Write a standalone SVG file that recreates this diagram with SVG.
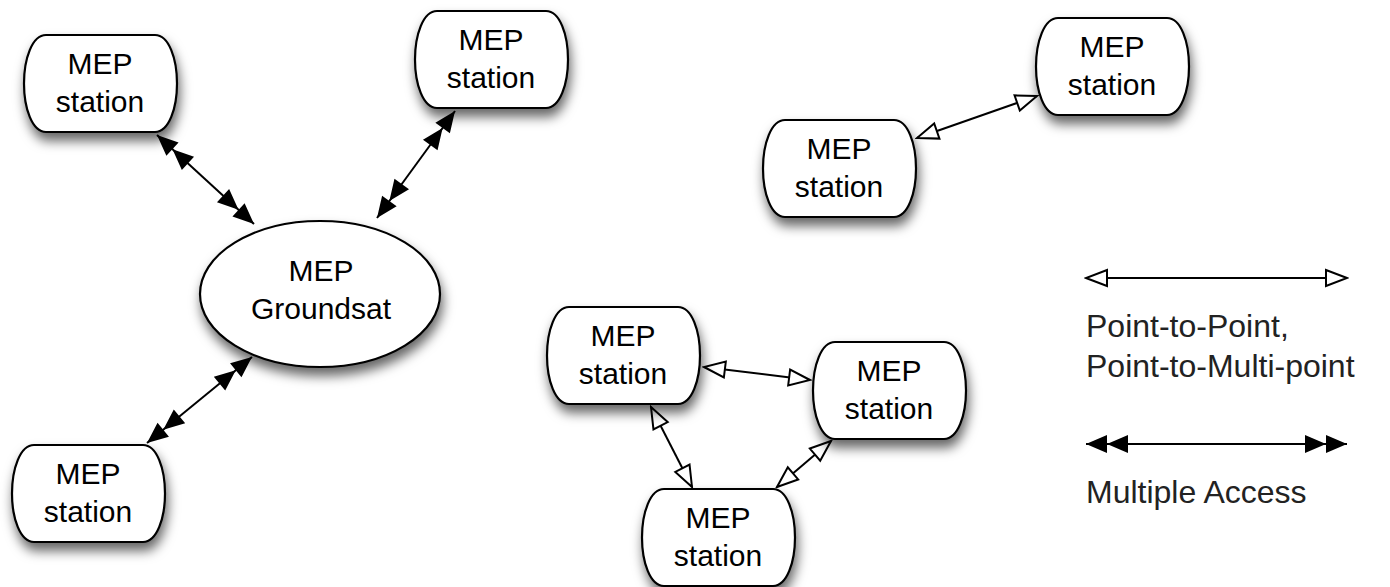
<svg xmlns="http://www.w3.org/2000/svg" xmlns:xlink="http://www.w3.org/1999/xlink" width="1390" height="587" viewBox="0 0 1390 587">
  <style>
    .node { fill: #ffffff; stroke: #000000; stroke-width: 2.2; filter: url(#shadow); }
    .label { font-family: "Liberation Sans", Arial, Helvetica, sans-serif; font-size: 30px; fill: #000000; text-anchor: middle; }
    .legend-text { font-family: "Liberation Sans", Arial, Helvetica, sans-serif; font-size: 32px; fill: #222222; }
    .link { stroke: #000000; stroke-width: 2; fill: none; }
    .ma { marker-start: url(#headDouble); marker-end: url(#headDouble); }
    .p2p { marker-start: url(#headOpen); marker-end: url(#headOpen); }
  </style>
  <defs>
    <filter id="shadow" x="-30%" y="-30%" width="160%" height="180%">
      <feDropShadow dx="2" dy="8" stdDeviation="6" flood-color="#000000" flood-opacity="0.6"/>
    </filter>
    <!-- station outline: straight top/bottom, bulging sides; 153 x 97 -->
    <path id="stationShape" d="M22,0 H131 C145,0 153,24 153,48.5 C153,73 145,97 131,97 H22 C8,97 0,73 0,48.5 C0,24 8,0 22,0 Z"/>
    <!-- doubled solid head (multiple access) -->
    <marker id="headDouble" markerUnits="userSpaceOnUse" orient="auto-start-reverse" viewBox="-44 -11 46 22" refX="0" refY="0" markerWidth="46" markerHeight="22">
      <path d="M0,0 L-21,-9 L-21,9 Z M-21,0 L-42,-9 L-42,9 Z" fill="#000000"/>
    </marker>
    <!-- hollow head (point-to-point) -->
    <marker id="headOpen" markerUnits="userSpaceOnUse" orient="auto-start-reverse" viewBox="-25 -11 27 22" refX="0" refY="0" markerWidth="27" markerHeight="22">
      <path d="M0,0 L-21,-8 L-21,8 Z" fill="#ffffff" stroke="#000000" stroke-width="2" stroke-linejoin="miter"/>
    </marker>
  </defs>

  <g id="connectors">
    <line class="link ma" x1="157" y1="135" x2="254" y2="224"/>
    <line class="link ma" x1="455" y1="111" x2="377" y2="218"/>
    <line class="link ma" x1="252" y1="357" x2="147" y2="443"/>
    <line class="link p2p" x1="917" y1="138" x2="1037" y2="96"/>
    <line class="link p2p" x1="704" y1="367" x2="810" y2="380"/>
    <line class="link p2p" x1="651" y1="407" x2="692" y2="487"/>
    <line class="link p2p" x1="831" y1="441" x2="777" y2="487"/>
  </g>

  <g id="groundsat">
    <ellipse class="node" cx="320" cy="294" rx="120" ry="73"/>
    <text class="label" x="321" y="281">MEP</text>
    <text class="label" x="321" y="319">Groundsat</text>
  </g>

  <g id="station-a">
    <use class="node" href="#stationShape" xlink:href="#stationShape" x="24" y="35"/>
    <text class="label" x="100" y="74">MEP</text>
    <text class="label" x="100" y="112">station</text>
  </g>
  <g id="station-b">
    <use class="node" href="#stationShape" xlink:href="#stationShape" x="415" y="11"/>
    <text class="label" x="491" y="50">MEP</text>
    <text class="label" x="491" y="88">station</text>
  </g>
  <g id="station-c">
    <use class="node" href="#stationShape" xlink:href="#stationShape" x="12" y="445"/>
    <text class="label" x="88" y="484">MEP</text>
    <text class="label" x="88" y="522">station</text>
  </g>
  <g id="station-d">
    <use class="node" href="#stationShape" xlink:href="#stationShape" x="1036" y="18"/>
    <text class="label" x="1112" y="57">MEP</text>
    <text class="label" x="1112" y="95">station</text>
  </g>
  <g id="station-e">
    <use class="node" href="#stationShape" xlink:href="#stationShape" x="763" y="120"/>
    <text class="label" x="839" y="159">MEP</text>
    <text class="label" x="839" y="197">station</text>
  </g>
  <g id="station-f">
    <use class="node" href="#stationShape" xlink:href="#stationShape" x="547" y="307"/>
    <text class="label" x="623" y="346">MEP</text>
    <text class="label" x="623" y="384">station</text>
  </g>
  <g id="station-g">
    <use class="node" href="#stationShape" xlink:href="#stationShape" x="813" y="342"/>
    <text class="label" x="889" y="381">MEP</text>
    <text class="label" x="889" y="419">station</text>
  </g>
  <g id="station-h">
    <use class="node" href="#stationShape" xlink:href="#stationShape" x="642" y="489"/>
    <text class="label" x="718" y="528">MEP</text>
    <text class="label" x="718" y="566">station</text>
  </g>

  <g id="legend">
    <line class="link p2p" x1="1086" y1="278" x2="1347" y2="278"/>
    <text class="legend-text" x="1086" y="337">Point-to-Point,</text>
    <text class="legend-text" x="1086" y="377">Point-to-Multi-point</text>
    <line class="link ma" x1="1086" y1="444" x2="1347" y2="444"/>
    <text class="legend-text" x="1086" y="503">Multiple Access</text>
  </g>
</svg>
